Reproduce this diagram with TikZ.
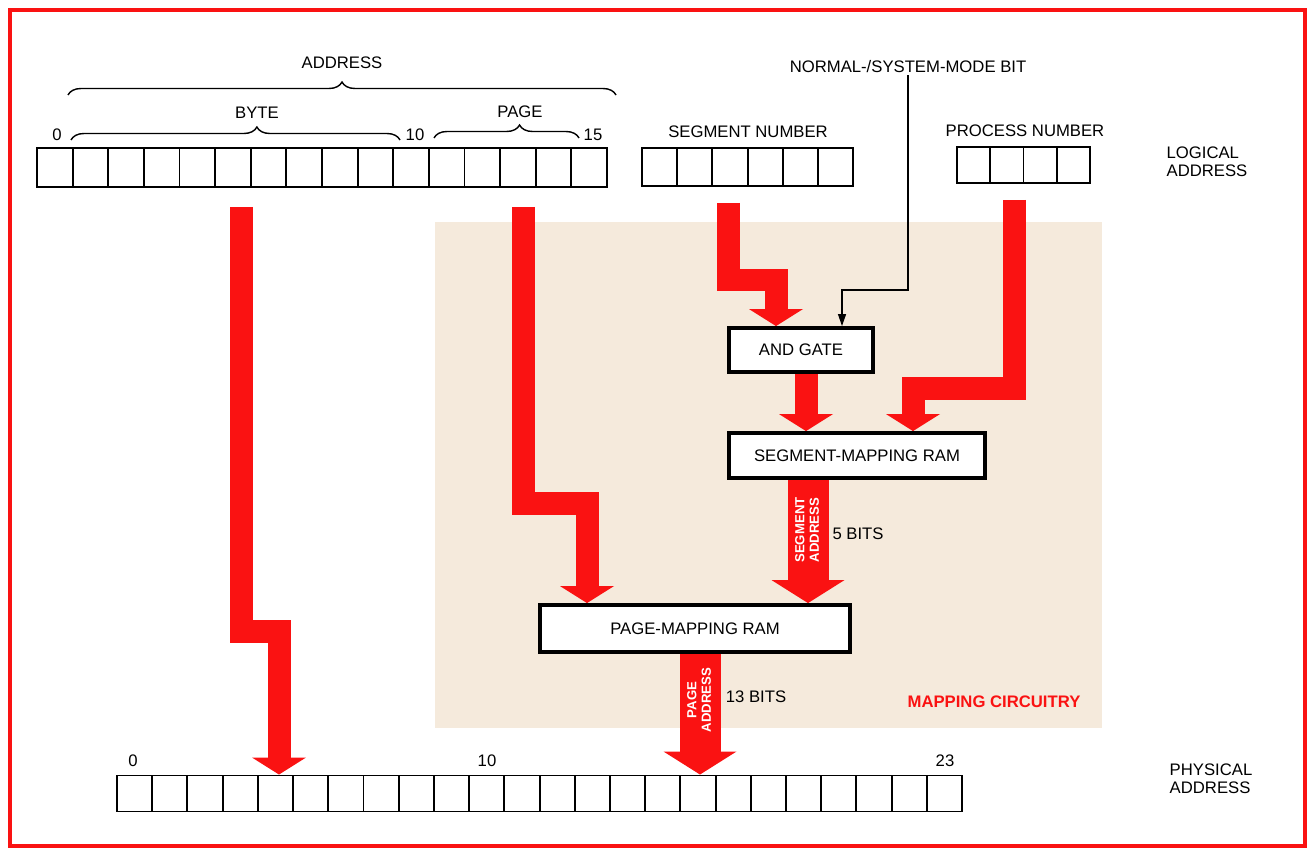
\documentclass[tikz,border=0pt]{standalone}
\usepackage{fontspec}
\setmainfont{Liberation Sans}
\usetikzlibrary{arrows.meta, decorations.pathreplacing, backgrounds}

\definecolor{mapred}{RGB}{250,18,18}
\definecolor{mapbeige}{RGB}{245,234,220}

\newcommand{\lblfont}{\fontsize{9.5}{10.5}\selectfont}
\newcommand{\tagfont}{\fontsize{7.5}{8.2}\selectfont\bfseries}

\tikzset{
  cell/.style={draw, line width=1.1pt, inner sep=0pt},
  ram/.style={draw, line width=2.2pt, fill=white, inner sep=0pt, font=\lblfont},
  lbl/.style={font=\lblfont, inner sep=1pt},
  tag/.style={font=\tagfont, text=white, rotate=90, align=center, inner sep=0pt},
  fat/.style={draw=mapred, line width=0.46cm, -{Triangle[width=1.08cm,length=0.34cm,line width=0pt]}},
  wide/.style={draw=mapred, line width=0.82cm, -{Triangle[width=1.46cm,length=0.46cm,line width=0pt]}},
  brc/.style={decorate, decoration={brace, amplitude=0.26cm}, line width=0.8pt},
}

\begin{document}
\begin{tikzpicture}[x=0.02cm, y=-0.02cm]
  \useasboundingbox (0,0) rectangle (1314,851);
  \draw[mapred, line width=2.3pt] (10,10) rectangle (1305,846);

  % registers
  \foreach \i in {0,...,15}
    \node[cell, minimum width=0.7125cm, minimum height=0.78cm] (lc\i) at ({37+35.625*(\i+0.5)},167.5) {};
  \foreach \i in {0,...,5}
    \node[cell, minimum width=0.703cm, minimum height=0.76cm] (sc\i) at ({642+35.17*(\i+0.5)},167) {};
  \foreach \i in {0,...,3}
    \node[cell, minimum width=0.665cm, minimum height=0.72cm] (pc\i) at ({957+33.25*(\i+0.5)},165) {};
  \foreach \i in {0,...,23}
    \node[cell, minimum width=0.704cm, minimum height=0.72cm] (ph\i) at ({117+35.21*(\i+0.5)},793.5) {};

  % mapping boxes
  \node[ram, minimum width=2.88cm, minimum height=0.88cm] (andgate) at (801,350) {AND GATE};
  \node[ram, minimum width=5.12cm, minimum height=0.9cm] (segram) at (857,455.5) {SEGMENT-MAPPING RAM};
  \node[ram, minimum width=6.2cm, minimum height=0.94cm] (pmram) at (695,628.5) {PAGE-MAPPING RAM};

  % labels
  \node[lbl] (addr) at (342,63) {ADDRESS};
  \node[lbl] (byte) at (257,113) {BYTE};
  \node[lbl] (page) at (520,112) {PAGE};
  \node[lbl] (l0) at (57,135) {0};
  \node[lbl] (l10) at (415,135) {10};
  \node[lbl] (l15) at (593,135) {15};
  \node[lbl] (segnum) at (748,132) {SEGMENT NUMBER};
  \node[lbl] (procnum) at (1025,131) {PROCESS NUMBER};
  \node[lbl] (modebit) at (908,67) {NORMAL-/SYSTEM-MODE BIT};
  \node[lbl, align=left] (logical) at (1207,162) {LOGICAL\\ADDRESS};
  \node[lbl, align=left] (physical) at (1211,779) {PHYSICAL\\ADDRESS};
  \node[lbl] (p0) at (133,761) {0};
  \node[lbl] (p10) at (487,761) {10};
  \node[lbl] (p23) at (945,761) {23};
  \node[lbl] (fivebits) at (858,534) {5 BITS};
  \node[lbl] (thirteenbits) at (756,697) {13 BITS};
  \node[lbl, font=\lblfont\bfseries, text=mapred] (mapcirc) at (994,702) {MAPPING CIRCUITRY};

  \draw[brc] (68,95) -- (616,95);
  \draw[brc, decoration={aspect=0.565}] (71,140) -- (400,140);
  \draw[brc, decoration={aspect=0.59}] (434,138) -- (579,138);

  % arrow ends
  \coordinate (bytetop) at (241,207);
  \coordinate (byteknee) at (279,631);
  \coordinate (pagetop) at (523,207);
  \coordinate (pageknee) at (587,503);
  \coordinate (segtop) at (728,203);
  \coordinate (segknee) at (776,280);
  \coordinate (proctop) at (1014,200);
  \coordinate (procknee) at (913,388);
  \coordinate (modeknee) at (842,290);
  \coordinate (andout) at (806,0);
  \coordinate (segaddr) at (808,0);
  \coordinate (pageaddr) at (700,0);

  \begin{scope}[on background layer]
    \fill[mapbeige] (435,222) rectangle (1102,728);
    \draw[fat] (bytetop) |- (byteknee) -- (byteknee |- ph4.north);
    \draw[fat] (pagetop) |- (pageknee) -- (pageknee |- pmram.north);
    \draw[fat] (segtop) |- (segknee) -- (segknee |- andgate.north);
    \draw[fat] (proctop) |- (procknee) -- (procknee |- segram.north);
    \draw[fat] (andout |- andgate.south) -- (andout |- segram.north);
    \draw[wide] (segaddr |- segram.south) -- (segaddr |- pmram.north);
    \draw[wide] (pageaddr |- pmram.south) -- (pageaddr |- ph16.north);
  \end{scope}
  \draw[line width=0.7pt, -{Triangle[width=0.16cm,length=0.24cm]}] (modebit.south) |- (modeknee) -- (modeknee |- andgate.north);

  \node[tag] (segtag) at (807,530) {SEGMENT\\ADDRESS};
  \node[tag] (pagetag) at (699,700) {PAGE\\ADDRESS};
\end{tikzpicture}
\end{document}
